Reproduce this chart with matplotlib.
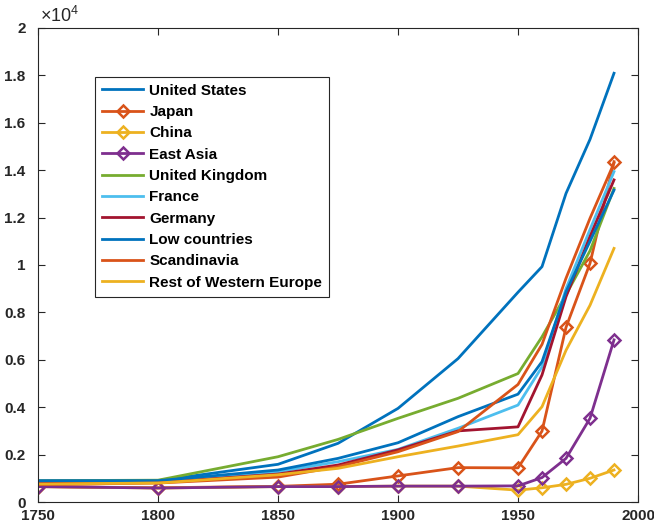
import matplotlib
matplotlib.use("Agg")
import matplotlib.pyplot as plt
from matplotlib.ticker import FuncFormatter

plt.rcParams['font.family'] = ['Liberation Sans', 'DejaVu Sans']
plt.rcParams['font.weight'] = 'bold'

years = [1750, 1800, 1850, 1875, 1900, 1925, 1950, 1960, 1970, 1980, 1990]

united_states = [880, 900, 1590, 2475, 3950, 6050, 8850, 9930, 13020, 15300, 18090]
japan = [650, 600, 660, 750, 1100, 1450, 1440, 2990, 7370, 10070, 14360]
china = [650, 590, 650, 650, 670, 670, 500, 600, 745, 1000, 1350]
east_asia = [650, 590, 650, 650, 670, 670, 680, 1030, 1840, 3530, 6840]
united_kingdom = [900, 920, 1910, 2640, 3530, 4375, 5420, 6970, 8750, 10600, 13230]
france = [820, 850, 1280, 1700, 2220, 3110, 4090, 5700, 9000, 11500, 13940]
germany = [780, 820, 1180, 1560, 2200, 3000, 3170, 5360, 8660, 11200, 13590]
low_countries = [900, 900, 1350, 1840, 2500, 3600, 4550, 5920, 8870, 11000, 13160]
scandinavia = [740, 800, 1050, 1490, 2120, 2970, 4960, 6650, 9440, 11970, 14300]
rest_we = [760, 800, 1150, 1420, 1910, 2360, 2840, 4020, 6400, 8300, 10700]

labels = ['United States', 'Japan', 'China', 'East Asia', 'United Kingdom',
          'France', 'Germany', 'Low countries', 'Scandinavia', 'Rest of Western Europe']
series = [united_states, japan, china, east_asia, united_kingdom,
          france, germany, low_countries, scandinavia, rest_we]
colors = ['#0072BD', '#D95319', '#EDB120', '#7E2F8E', '#77AC30',
          '#4DBEEE', '#A2142F', '#0072BD', '#D95319', '#EDB120']
with_marker = [False, True, True, True, False, False, False, False, False, False]

xticks = [1750, 1800, 1850, 1900, 1950, 2000]
yticks = [0, 2000, 4000, 6000, 8000, 10000, 12000, 14000, 16000, 18000, 20000]

fig = plt.figure(figsize=(6.54, 5.25), dpi=100)
ax = fig.add_axes([38/654, 23/525, 600/654, 474/525])

for lab, vals, col, mk in zip(labels, series, colors, with_marker):
    if mk:
        ax.plot(years, vals, color=col, lw=2.0, marker='D', ms=6.5,
                mfc='none', mec=col, mew=1.8, label=lab)
    else:
        ax.plot(years, vals, color=col, lw=2.0, label=lab)

ax.set_xlim(1750, 2000)
ax.set_ylim(0, 20000)
ax.set_xticks(xticks)
ax.set_yticks(yticks)
ax.yaxis.set_major_formatter(FuncFormatter(lambda v, p: '%g' % (v / 1e4)))

edge = '#262626'
for s in ax.spines.values():
    s.set_color(edge)
    s.set_linewidth(0.8)
ax.tick_params(direction='in', length=5, width=0.8, color=edge,
               labelcolor=edge, labelsize=11, top=True, right=True)
ax.tick_params(axis='x', pad=5)
ax.tick_params(axis='y', pad=9)
for t in ax.get_xticklabels() + ax.get_yticklabels():
    t.set_fontweight('bold')

ax.text(0.003, 1.005, r'$\mathregular{\times10^{4}}$', transform=ax.transAxes,
        ha='left', va='bottom', fontsize=13, color=edge, fontweight='normal')

leg = ax.legend(loc='upper left', bbox_to_anchor=(0.095, 0.897), fontsize=11,
                frameon=True, fancybox=False, framealpha=1, edgecolor=edge,
                handlelength=2.7, handletextpad=0.4, labelspacing=0.48,
                borderpad=0.45, borderaxespad=0)
leg.get_frame().set_linewidth(0.8)
for t in leg.get_texts():
    t.set_fontweight('bold')
    t.set_color('black')

fig.savefig('out.png', dpi=100)
